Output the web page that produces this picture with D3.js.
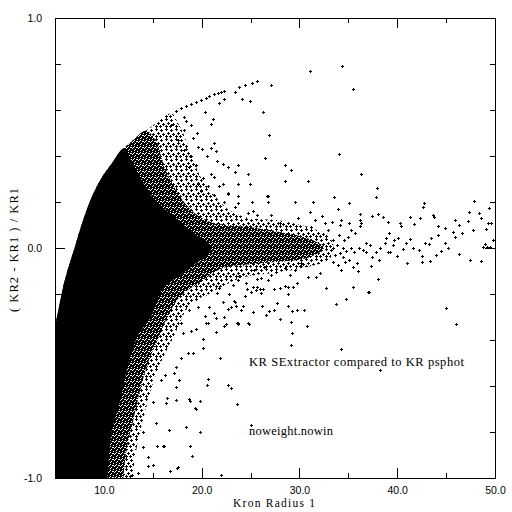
<!DOCTYPE html>
<html>
<head>
<meta charset="utf-8">
<script src="https://cdn.jsdelivr.net/npm/d3@7"></script>
<style>
  body { margin: 0; background: #fff; }
  .tick text { font-family: "Liberation Sans", Arial, sans-serif; font-size: 10.5px; fill: #000; }
  .lbl { font-family: "Liberation Serif", "Times New Roman", serif; font-size: 12.5px; fill: #000; }
</style>
</head>
<body>
<div id="chart"></div>
<script>
// axis ticks
var xMajor = [10, 20, 30, 40, 50];
var xMinor = [15, 25, 35, 45];
var yMajor = [-1, 0, 1];
var yMinor = [-0.8, -0.6, -0.4, -0.2, 0.2, 0.4, 0.6, 0.8];

// upper envelope of the cloud (KR1, ratio)
var envelope = [[5.0,-0.34],[5.3,-0.28],[6.0,-0.14],[7.0,0.0],[7.6,0.085],[8.7,0.215],[9.7,0.30],
  [10.6,0.355],[12.1,0.435],[13.0,0.47],[14.3,0.51],[15.5,0.549],[16.9,0.586]];

// right edge of the solid black core
var coreEdge = [[12.8,0.38],[13.8,0.30],[15.2,0.21],[17.2,0.135],[19.2,0.065],[21.0,0.0],[19.0,-0.08],
  [16.0,-0.18],[14.8,-0.30],[13.5,-0.38],[12.4,-0.52],[11.7,-0.66],[10.8,-0.80],[10.3,-1.05]];

// right edge of the dense speckled zone
var innerEdge = [[15.4,0.46],[16.2,0.35],[17.4,0.25],[18.8,0.17],[20.5,0.12],[22.5,0.10],[25.0,0.09],
  [28.0,0.07],[31.0,0.04],[32.5,0.0],[31.0,-0.04],[28.0,-0.06],[25.0,-0.07],[22.0,-0.09],[19.8,-0.15],
  [17.8,-0.21],[16.5,-0.30],[15.5,-0.40],[14.5,-0.50],[13.7,-0.62],[13.0,-0.75],[12.3,-0.88],[11.9,-1.05]];

// right edge of the sparse speckled zone
var outerEdge = [[17.5,0.55],[18.3,0.48],[19.0,0.40],[20.0,0.30],[21.5,0.22],[23.0,0.16],[25.0,0.13],
  [28.0,0.12],[31.0,0.09],[33.0,0.05],[33.5,0.0],[33.0,-0.05],[30.0,-0.09],[27.0,-0.11],[24.0,-0.13],
  [22.0,-0.17],[20.0,-0.22],[18.6,-0.26],[17.2,-0.38],[15.8,-0.50],[14.8,-0.62],[14.0,-0.75],
  [13.3,-0.88],[12.8,-1.05]];

// arc of points continuing the envelope
var arcPoints = [[17.4,0.597],[17.9,0.607],[18.4,0.617],[18.9,0.626],[19.4,0.635],[19.9,0.643],
  [20.4,0.653],[20.8,0.66],[21.3,0.668],[21.7,0.672],[22.0,0.677],[22.3,0.683],[23.4,0.68],[23.8,0.70],
  [24.4,0.71],[25.1,0.716],[25.7,0.725],[27.1,0.71]];

// upper scattered points
var upperPoints = [[31.1,0.77],[34.4,0.79],[35.5,0.69],[24.1,0.65],[24.9,0.64],[26.3,0.59],[26.9,0.49],
  [26.5,0.39],[28.5,0.36],[29.1,0.34],[28.5,0.29],[30.9,0.29],[34.0,0.41],[36.3,0.32],[33.5,0.22],
  [26.7,0.225],[24.7,0.32],[24.9,0.28],[23.7,0.36],[22.7,0.35],[23.4,0.33],[20.3,0.59],[21.2,0.56],
  [21.0,0.54],[22.3,0.65],[21.8,0.63],[18.2,0.57],[18.4,0.55],[18.9,0.535],[19.5,0.50],[21.3,0.455],
  [21.5,0.42],[20.0,0.43],[20.5,0.40],[21.0,0.436],[21.6,0.38],[22.2,0.364],[21.0,0.32],[21.3,0.31],
  [21.8,0.27],[22.2,0.277],[22.7,0.235],[23.7,0.227],[21.3,0.23],[20.6,0.27],[20.1,0.306],[19.6,0.28],
  [19.9,0.25],[16.9,0.535],[18.2,0.513],[17.6,0.47],[19.1,0.477],[19.6,0.44],[18.9,0.40],[18.2,0.426],
  [19.4,0.36],[18.7,0.354],[25.1,0.20],[23.7,0.197],[23.4,0.18],[24.7,0.153],[25.2,0.16],[22.7,0.24],
  [22.3,0.20],[23.7,0.28]];

// points around the horizontal tail
var tailPoints = [[37.9,0.26],[37.8,0.22],[26.8,0.226],[26.8,0.20],[29.5,0.20],[31.4,0.20],[35.1,0.194],
  [33.9,0.168],[31.1,0.158],[32.3,0.139],[29.9,0.129],[42.7,0.194],[42.6,0.18],[38.0,0.15],[37.4,0.139],
  [38.5,0.133],[39.1,0.114],[41.3,0.133],[42.3,0.129],[43.7,0.143],[43.8,0.133],[41.7,0.104],[40.3,0.11],
  [40.4,0.096],[44.2,0.096],[44.9,0.086],[45.9,0.12],[46.3,0.10],[45.7,0.071],[46.6,0.067],[47.2,0.117],
  [47.8,0.078],[47.9,0.206],[47.3,0.158],[48.4,0.154],[49.4,0.173],[48.6,0.129],[49.3,0.11],[49.6,0.107],
  [49.1,0.081],[49.8,0.035],[49.0,0.017],[49.2,0.003],[49.5,0.003],[48.8,0.006],[48.6,-0.057],[47.4,-0.052],
  [46.3,-0.026],[45.9,0.049],[45.2,-0.001],[44.5,-0.012],[44.9,0.02],[44.0,-0.03],[44.2,0.057],[43.5,0.042],
  [43.4,-0.055],[43.2,0.016],[42.8,0.02],[42.5,-0.035],[42.5,-0.06],[42.2,-0.009],[41.6,-0.001],[41.3,0.038],
  [40.9,0.023],[40.6,-0.006],[41.0,-0.067],[40.0,-0.035],[39.7,0.035],[40.1,0.042],[39.6,0.013],[39.1,-0.016],
  [39.3,-0.016],[38.7,0.023],[38.2,-0.001],[38.1,-0.052],[37.8,-0.016],[37.4,-0.038],[37.2,0.013],[36.8,0.023],
  [37.3,-0.078],[38.0,-0.136],[38.9,0.042],[39.2,0.064],[36.3,0.107],[36.2,0.122],[36.2,0.097],[35.3,0.078],
  [35.7,0.064],[34.3,0.122],[34.1,0.10],[35.0,0.049],[34.6,0.035],[36.5,-0.009],[36.8,-0.016],[35.9,-0.067],
  [35.5,-0.081],[36.0,-0.099],[34.7,-0.061],[33.9,-0.074],[33.4,-0.062],[34.3,-0.096],[32.7,-0.175],
  [35.5,-0.168],[37.0,-0.19],[32.1,-0.11],[31.7,-0.125],[30.9,-0.125],[29.8,-0.15],[29.3,-0.17],[28.8,-0.17],
  [28.5,-0.165],[28.0,-0.175],[27.4,-0.18],[25.7,-0.168],[26.3,-0.178],[26.8,-0.139],[25.7,-0.136],
  [29.5,-0.096],[30.2,-0.078],[30.2,-0.067],[33.4,0.0],[33.8,0.013],[34.1,-0.02],[34.5,0.0],[34.8,-0.012],
  [35.3,0.0],[35.6,-0.016],[36.1,0.001],[33.6,-0.03],[34.5,-0.038],[35.1,-0.05],[33.4,0.035],[34.0,0.057],
  [32.9,0.078],[35.1,0.107],[36.2,0.15],[33.3,0.114],[32.6,0.107],[25.7,0.143],[27.1,0.143],[28.0,0.107],
  [28.8,0.107],[31.6,0.122],[31.2,0.093],[25.4,-0.096],[26.4,-0.084],[27.6,-0.103],[28.5,-0.088],
  [29.0,-0.117],[27.1,-0.117],[26.1,-0.132],[24.5,-0.15],[23.8,-0.12],[25.0,-0.19],[24.2,-0.25],
  [22.8,-0.20],[22.0,-0.14]];

// lower scattered points
var lowerPoints = [[34.8,-0.22],[33.7,-0.245],[37.1,-0.19],[45.0,-0.26],[46.0,-0.33],[34.3,-0.44],
  [38.2,-0.53],[30.8,-0.34],[29.1,-0.42],[29.2,-0.37],[29.1,-0.32],[28.0,-0.31],[29.7,-0.27],[30.5,-0.27],
  [28.8,-0.20],[28.8,-0.25],[29.2,-0.275],[27.7,-0.24],[27.4,-0.27],[26.9,-0.275],[26.6,-0.29],[26.2,-0.25],
  [25.3,-0.277],[24.8,-0.33],[23.7,-0.33],[24.0,-0.27],[23.5,-0.25],[23.3,-0.23],[23.0,-0.61],[23.6,-0.68],
  [25.0,-0.77],[27.4,-0.18],[26.0,-0.18],[24.6,-0.18],[16.9,-0.24],[17.4,-0.296],[17.9,-0.327],
  [18.7,-0.27],[19.6,-0.255],[20.8,-0.255],[21.3,-0.284],[22.2,-0.233],[22.7,-0.266],[22.3,-0.339],
  [21.5,-0.364],[23.6,-0.327],[20.6,-0.327],[20.3,-0.296],[19.4,-0.35],[18.9,-0.36],[18.1,-0.37],
  [20.1,-0.397],[20.1,-0.436],[19.1,-0.458],[18.6,-0.455],[17.9,-0.48],[17.4,-0.516],[17.2,-0.545],
  [17.7,-0.574],[17.4,-0.603],[16.2,-0.55],[15.8,-0.574],[16.5,-0.653],[17.4,-0.66],[18.7,-0.657],
  [19.3,-0.697],[20.6,-0.57],[20.5,-0.596],[21.9,-0.48],[22.7,-0.596],[23.0,-0.61],[18.4,-0.777],
  [16.7,-0.79],[19.8,-0.80],[15.3,-0.762],[16.0,-0.86],[15.4,-0.86],[18.8,-0.86],[19.0,-0.904],
  [14.5,-0.91],[15.0,-0.943],[14.5,-0.947],[17.6,-0.95],[16.8,-0.97],[14.0,-0.864],[22.0,-0.987],
  [13.5,-0.977],[12.9,-0.987],[15.0,-0.668],[16.4,-0.675],[18.8,-0.665],[19.8,-0.665],[19.4,-0.70],
  [14.0,-0.80],[16.1,-0.86],[17.5,-0.955],[23.7,-0.325],[24.7,-0.327],[22.5,-0.33],[22.3,-0.30],
  [20.4,-0.325],[21.5,-0.306],[25.2,-0.168],[25.6,-0.183],[26.1,-0.197],[23.0,-0.255],[23.4,-0.233],
  [23.2,-0.161],[23.7,-0.139],[24.4,-0.21],[21.6,-0.197],[21.8,-0.175]];

var W = 512, H = 512;
var margin = { top: 18, right: 17, bottom: 34, left: 55 };
var width = W - margin.left - margin.right;
var height = H - margin.top - margin.bottom;

var x = d3.scaleLinear().domain([5, 50]).range([0, width]);
var y = d3.scaleLinear().domain([-1, 1]).range([height, 0]);

var svg = d3.select("#chart").append("svg")
  .attr("width", W).attr("height", H);

var defs = svg.append("defs");
defs.append("clipPath").attr("id", "clip")
  .append("rect").attr("width", width).attr("height", height);

// dense speckle: black with scattered white holes
var pDense = defs.append("pattern").attr("id", "dense")
  .attr("patternUnits", "userSpaceOnUse").attr("width", 6).attr("height", 6);
pDense.append("rect").attr("width", 6).attr("height", 6).attr("fill", "#000");
pDense.append("path").attr("fill", "#fff")
  .attr("d", "M1,0h1v1h-1zM4,1h1v1h-1zM0,3h1v1h-1zM3,3h2v1h-2zM5,4h1v1h-1zM2,5h1v1h-1zM1,2h1v1h-1z");

// sparse speckle: loose plus marks
var pSparse = defs.append("pattern").attr("id", "sparse")
  .attr("patternUnits", "userSpaceOnUse").attr("width", 10).attr("height", 10);
var sparseMarks = [[1,1],[6,2],[3,5],[8,6],[5,8],[1,8]];
pSparse.append("path").attr("fill", "#000")
  .attr("d", sparseMarks.map(p => "M" + (p[0] - 1) + "," + p[1] + "h3v1h-3zM" + p[0] + "," + (p[1] - 1) + "h1v3h-1z").join(""));

var g = svg.append("g")
  .attr("transform", "translate(" + margin.left + "," + margin.top + ")");

var plot = g.append("g").attr("clip-path", "url(#clip)");

var edgeLine = d3.line().x(d => x(d[0])).y(d => y(d[1])).curve(d3.curveCatmullRom.alpha(0.5));
// close each region round the outside of the lower-left corner
function region(top, edge) {
  return edgeLine(top.concat(edge)) +
    "L" + x(4) + "," + y(-1.05) + "L" + x(4) + "," + y(top[0][1]) + "Z";
}

plot.append("path").attr("d", region(envelope, outerEdge)).attr("fill", "url(#sparse)");
plot.append("path").attr("d", region(envelope.filter(d => d[0] <= 14.3), innerEdge)).attr("fill", "url(#dense)");
plot.append("path").attr("d", region(envelope.filter(d => d[0] <= 12.1), coreEdge)).attr("fill", "#000");

// plus markers
var allPoints = arcPoints.concat(upperPoints, tailPoints, lowerPoints);
plot.selectAll("path.pt")
  .data(allPoints)
  .enter().append("path")
  .attr("class", "pt")
  .attr("fill", "#000")
  .attr("d", function(d) {
    var px = Math.round(x(d[0])), py = Math.round(y(d[1]));
    return "M" + (px - 1) + "," + py + "h3v1h-3zM" + px + "," + (py - 1) + "h1v3h-1z";
  });

// axes, ticks pointing inward
var fmt = d => d.toFixed(1);
function styleAxis(sel) {
  sel.select(".domain").remove();
  sel.selectAll(".tick line").attr("stroke", "#000").attr("shape-rendering", "crispEdges");
}

g.append("g").attr("transform", "translate(0," + height + ")")
  .call(d3.axisBottom(x).tickValues(xMajor).tickSize(-10).tickPadding(9).tickFormat(fmt)).call(styleAxis);
g.append("g").attr("transform", "translate(0," + height + ")")
  .call(d3.axisBottom(x).tickValues(xMinor).tickSize(-5).tickFormat("")).call(styleAxis);
g.append("g")
  .call(d3.axisTop(x).tickValues(xMajor).tickSize(-10).tickFormat("")).call(styleAxis);
g.append("g")
  .call(d3.axisTop(x).tickValues(xMinor).tickSize(-5).tickFormat("")).call(styleAxis);

g.append("g")
  .call(d3.axisLeft(y).tickValues(yMajor).tickSize(-10).tickPadding(13).tickFormat(fmt)).call(styleAxis);
g.append("g")
  .call(d3.axisLeft(y).tickValues(yMinor).tickSize(-6).tickFormat("")).call(styleAxis);
g.append("g").attr("transform", "translate(" + width + ",0)")
  .call(d3.axisRight(y).tickValues(yMajor).tickSize(-10).tickFormat("")).call(styleAxis);
g.append("g").attr("transform", "translate(" + width + ",0)")
  .call(d3.axisRight(y).tickValues(yMinor).tickSize(-5).tickFormat("")).call(styleAxis);

// frame
g.append("rect")
  .attr("x", 0.5).attr("y", 0.5)
  .attr("width", width).attr("height", height)
  .attr("fill", "none").attr("stroke", "#000")
  .attr("shape-rendering", "crispEdges");

// labels
g.append("text").attr("class", "lbl")
  .style("font-size", "11.5px")
  .attr("x", x(5) + 178).attr("y", height + 29)
  .attr("textLength", 82).attr("lengthAdjust", "spacing")
  .text("Kron Radius 1");

g.append("text").attr("class", "lbl")
  .attr("transform", "translate(" + (-37) + "," + (y(0) - 60) + ") rotate(-90)")
  .attr("text-anchor", "end")
  .attr("textLength", 124).attr("lengthAdjust", "spacing")
  .text("( KR2 - KR1 ) / KR1");

g.append("text").attr("class", "lbl")
  .attr("x", 194).attr("y", 348)
  .attr("textLength", 215).attr("lengthAdjust", "spacing")
  .text("KR SExtractor compared to KR psphot");

g.append("text").attr("class", "lbl")
  .attr("x", 194).attr("y", 417)
  .attr("textLength", 84).attr("lengthAdjust", "spacing")
  .text("noweight.nowin");
</script>
</body>
</html>
